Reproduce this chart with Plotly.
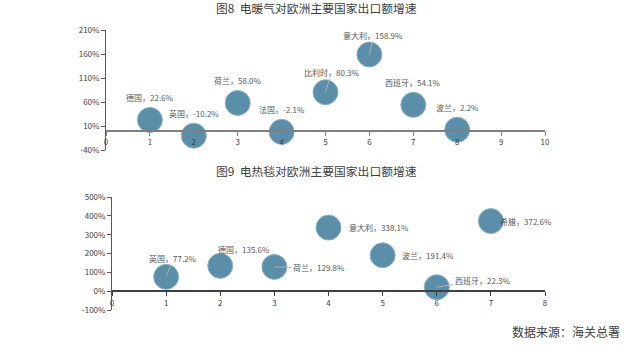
import plotly.graph_objects as go

W, H = 640, 352

# Chart 1: 电暖气
c1_names = ["德国", "英国", "荷兰", "法国", "比利时", "意大利", "西班牙", "波兰"]
c1_x = [1, 2, 3, 4, 5, 6, 7, 8]
c1_vals = [22.6, -10.2, 58.0, -2.1, 80.3, 158.9, 54.1, 2.2]
# label offsets (px) and whether a leader line is drawn
c1_off = [(0, -22), (0, -22), (0, -22), (0, -22), (6, -20), (4, -19), (0, -22), (0, -22)]
c1_lead = [False, False, False, False, True, True, False, False]

# Chart 2: 电热毯
c2_names = ["英国", "德国", "荷兰", "意大利", "波兰", "西班牙", "希腊"]
c2_x = [1, 2, 3, 4, 5, 6, 7]
c2_vals = [77.2, 135.6, 129.8, 338.1, 191.4, 22.3, 372.6]
c2_off = [(7, -18), (24, -16), (45, 1), (50, 0), (45, 0), (46, -7), (35, 0)]
c2_lead = [True, False, True, False, False, True, False]

c1_yticks = [-40, 10, 60, 110, 160, 210]
c2_yticks = [-100, 0, 100, 200, 300, 400, 500]

BUB = "#5b8ea8"
AX = "#595959"
LBL = "#595959"
FONT = "Noto Sans CJK SC"

fig = go.Figure()
fig.add_trace(go.Scatter(x=c1_x, y=c1_vals, mode="markers", xaxis="x", yaxis="y",
                         marker=dict(size=25, color=BUB, line=dict(color="#8db2c4", width=1)),
                         hoverinfo="skip", showlegend=False))
fig.add_trace(go.Scatter(x=c2_x, y=c2_vals, mode="markers", xaxis="x2", yaxis="y2",
                         marker=dict(size=25, color=BUB, line=dict(color="#8db2c4", width=1)),
                         hoverinfo="skip", showlegend=False))

ann = []
def add_labels(names, xs, vals, offs, leads, xr, yr):
    for n, x, v, (dx, dy), lead in zip(names, xs, vals, offs, leads):
        txt = f"{n}，{v:.1f}%"
        if lead:
            ann.append(dict(x=x, y=v, xref=xr, yref=yr, text=txt, showarrow=True,
                            arrowhead=0, arrowwidth=1, arrowcolor="#b0b0b0", ax=dx, ay=dy,
                            standoff=0, startstandoff=0,
                            font=dict(family=FONT, size=8, color=LBL)))
        else:
            ann.append(dict(x=x, y=v, xref=xr, yref=yr, text=txt, showarrow=False,
                            xshift=dx, yshift=-dy,
                            font=dict(family=FONT, size=8, color=LBL)))

add_labels(c1_names, c1_x, c1_vals, c1_off, c1_lead, "x", "y")
add_labels(c2_names, c2_x, c2_vals, c2_off, c2_lead, "x2", "y2")

ann.append(dict(x=316 / W, y=1 - 8 / H, xref="paper", yref="paper", yanchor="middle",
                text="图8  电暖气对欧洲主要国家出口额增速", showarrow=False,
                font=dict(family=FONT, size=11.8, color="#404040")))
ann.append(dict(x=316 / W, y=1 - 170 / H, xref="paper", yref="paper", yanchor="middle",
                text="图9  电热毯对欧洲主要国家出口额增速", showarrow=False,
                font=dict(family=FONT, size=11.8, color="#404040")))
ann.append(dict(x=622 / W, y=1 - 331 / H, xref="paper", yref="paper", xanchor="right",
                yanchor="middle",
                text="数据来源：海关总署", showarrow=False,
                font=dict(family=FONT, size=12, color="#404040")))

axfont = dict(family=FONT, size=8, color="#404040")
fig.update_layout(
    width=W, height=H, margin=dict(l=0, r=0, t=0, b=0, autoexpand=False),
    paper_bgcolor="white", plot_bgcolor="white",
    annotations=ann,
    xaxis=dict(domain=[106 / W, 545 / W], range=[0, 10], anchor="free",
               position=1 - 130.8 / H, tickmode="linear", tick0=0, dtick=1,
               showgrid=False, zeroline=False, showline=True, linecolor="#7f7f7f",
               linewidth=1.5, ticks="outside", ticklen=4, tickcolor="#7f7f7f",
               tickfont=axfont),
    yaxis=dict(domain=[1 - 150 / H, 1 - 30 / H], range=[-40, 210], anchor="x",
               tickvals=c1_yticks, ticktext=[f"{t}%" for t in c1_yticks],
               showgrid=False, zeroline=False,
               showline=True, linecolor=AX, linewidth=1, ticks="outside", ticklen=4,
               tickcolor=AX, tickfont=axfont),
    xaxis2=dict(domain=[112 / W, 545 / W], range=[0, 8], anchor="free",
                position=1 - 291.3 / H, tickmode="linear", tick0=0, dtick=1,
                showgrid=False, zeroline=False, showline=True, linecolor="#404040",
                linewidth=1.5, ticks="outside", ticklen=4, tickcolor="#404040",
                tickfont=axfont),
    yaxis2=dict(domain=[1 - 310.3 / H, 1 - 197 / H], range=[-100, 500], anchor="x2",
                tickvals=c2_yticks, ticktext=[f"{t}%" for t in c2_yticks],
                showgrid=False, zeroline=False,
                showline=True, linecolor=AX, linewidth=1, ticks="outside", ticklen=4,
                tickcolor=AX, tickfont=axfont),
)

fig.write_html("out.html")
